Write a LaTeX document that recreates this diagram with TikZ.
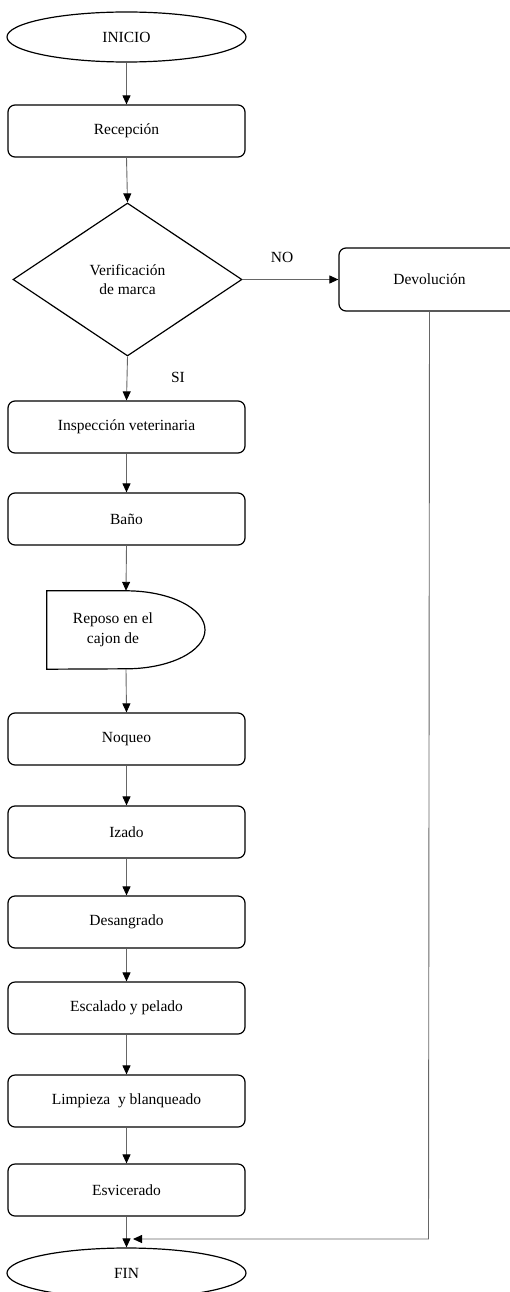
\documentclass[tikz,border=0pt]{standalone}
\usepackage{fontspec}
\setmainfont{Liberation Serif}
\usetikzlibrary{shapes.geometric,arrows.meta}
\begin{document}
\begin{tikzpicture}[x=1pt,y=1pt,
  txt/.style={font=\fontsize{15.5}{19}\selectfont},
  box/.style={txt,draw,line width=1.2pt,rounded corners=7pt,minimum width=237pt,minimum height=52pt,inner sep=0pt},
  term/.style={txt,draw,ellipse,line width=1.2pt,minimum width=239pt,minimum height=50pt,inner sep=0pt},
  dec/.style={txt,draw,diamond,line width=1.2pt,minimum width=229pt,minimum height=153pt,inner sep=0pt,align=center},
  conn/.style={draw=black!60,line width=0.9pt,-{Triangle[length=9pt,width=8pt,color=black]}}
]
\useasboundingbox (0,0) rectangle (509,-1292);

\node[term] (inicio) at (126.5,-37) {INICIO};
\node[box] (recep) at (126.5,-131) {Recepción};
\node[dec] (verif) at (127.5,-279.5) {Verificación\\de marca};
\node[box,minimum width=181pt,minimum height=63pt] (devol) at (429.5,-279.5) {Devolución};
\node[box] (insp) at (126.5,-427) {Inspección veterinaria};
\node[box] (bano) at (126.5,-519) {Baño};
\node[minimum width=158pt,minimum height=78pt,inner sep=0pt] (reposo) at (126,-630) {};
\draw[line width=1.2pt] (reposo.north) arc[start angle=90,end angle=-90,x radius=79pt,y radius=39pt]
  -- (reposo.south west) -- (reposo.north west) -- cycle;
\node[txt,align=center,font=\fontsize{15.5}{20}\selectfont] (repotxt) at (113,-630) {Reposo en el\\cajon de};
\node[box] (noqueo) at (126.5,-739) {Noqueo};
\node[box] (izado) at (126.5,-832) {Izado};
\node[box] (desang) at (126.5,-922) {Desangrado};
\node[box] (escal) at (126.5,-1008) {Escalado y pelado};
\node[box] (limp) at (126.5,-1101) {Limpieza\ \ y blanqueado};
\node[box] (esvic) at (126.5,-1190) {Esvicerado};
\node[term] (fin) at (126.5,-1273) {FIN};

\node[txt] (no) at (282,-257) {NO};
\node[txt] (si) at (178,-377) {SI};

\draw[conn] (inicio.south) -- (recep.north);
\draw[conn] (recep.south) -- (verif.north);
\draw[conn] (verif.east) -- (devol.west);
\draw[conn] (verif.south) -- (insp.north);
\draw[conn] (insp.south) -- (bano.north);
\draw[conn] (bano.south) -- (reposo.north);
\draw[conn] (reposo.south) -- (noqueo.north);
\draw[conn] (noqueo.south) -- (izado.north);
\draw[conn] (izado.south) -- (desang.north);
\draw[conn] (desang.south) -- (escal.north);
\draw[conn] (escal.south) -- (limp.north);
\draw[conn] (limp.south) -- (esvic.north);
\draw[conn] (esvic.south) -- (fin.north);
\coordinate (turn) at (428.5,-1239);
\coordinate (join) at (133,-1239);
\draw[conn] (devol.south) -- (turn) -- (join);
\end{tikzpicture}
\end{document}
